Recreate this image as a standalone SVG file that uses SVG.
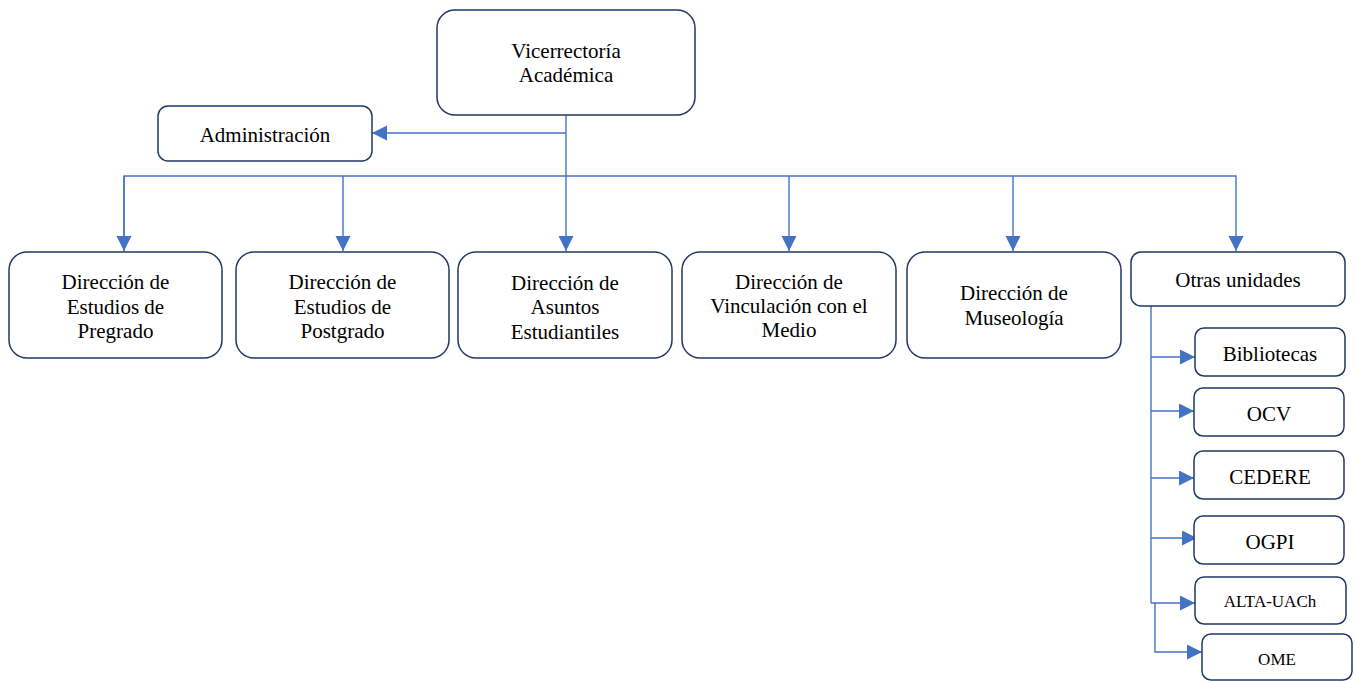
<svg xmlns="http://www.w3.org/2000/svg" width="1356" height="681" viewBox="0 0 1356 681">
  <style>
    .box { fill: #ffffff; stroke: #203864; stroke-width: 1.5; }
    .lbl { font-family: "Liberation Serif", "Times New Roman", serif; font-size: 21px; fill: #000000; text-anchor: middle; }
    .sm { font-size: 17px; }
    .wire { fill: none; stroke: #4472c4; stroke-width: 1.4; }
    .arr { marker-end: url(#head); }
  </style>
  <defs>
    <marker id="head" markerUnits="userSpaceOnUse" markerWidth="16" markerHeight="16" refX="15" refY="7.5" orient="auto">
      <path d="M0,0 L15,7.5 L0,15 z" fill="#4472c4"/>
    </marker>
  </defs>

  <rect width="1356" height="681" fill="#ffffff"/>

  <!-- connectors -->
  <g id="connectors">
    <line class="wire" x1="566" y1="115" x2="566" y2="251" marker-end="url(#head)"/>
    <line class="wire" x1="566" y1="133" x2="372" y2="133" marker-end="url(#head)"/>
    <polyline class="wire" points="124,251 124,176 1236,176 1236,251" marker-end="url(#head)"/>
    <line class="wire" x1="124" y1="176" x2="124" y2="251" marker-end="url(#head)"/>
    <line class="wire" x1="343" y1="176" x2="343" y2="251" marker-end="url(#head)"/>
    <line class="wire" x1="789" y1="176" x2="789" y2="251" marker-end="url(#head)"/>
    <line class="wire" x1="1013" y1="176" x2="1013" y2="251" marker-end="url(#head)"/>
    <!-- sub-units trunk -->
    <line class="wire" x1="1151" y1="306" x2="1151" y2="603"/>
    <line class="wire" x1="1151" y1="357" x2="1195" y2="357" marker-end="url(#head)"/>
    <line class="wire" x1="1151" y1="411" x2="1194" y2="411" marker-end="url(#head)"/>
    <line class="wire" x1="1151" y1="478" x2="1194" y2="478" marker-end="url(#head)"/>
    <line class="wire" x1="1151" y1="538" x2="1197" y2="538" marker-end="url(#head)"/>
    <line class="wire" x1="1151" y1="603" x2="1195" y2="603" marker-end="url(#head)"/>
    <polyline class="wire" points="1155,603 1155,652 1202,652" marker-end="url(#head)"/>
  </g>

  <g id="vicerrectoria">
    <rect class="box" x="437" y="10" width="258" height="105" rx="18"/>
    <text class="lbl" x="566" y="58">Vicerrectoría</text>
    <text class="lbl" x="566" y="82">Académica</text>
  </g>

  <g id="administracion">
    <rect class="box" x="158" y="106" width="214" height="55" rx="10"/>
    <text class="lbl" x="265" y="142">Administración</text>
  </g>

  <g id="pregrado">
    <rect class="box" x="9" y="252" width="213" height="106" rx="18"/>
    <text class="lbl" x="115.5" y="289">Dirección de</text>
    <text class="lbl" x="115.5" y="313.5">Estudios de</text>
    <text class="lbl" x="115.5" y="338">Pregrado</text>
  </g>

  <g id="postgrado">
    <rect class="box" x="236" y="252" width="213" height="106" rx="18"/>
    <text class="lbl" x="342.5" y="289">Dirección de</text>
    <text class="lbl" x="342.5" y="313.5">Estudios de</text>
    <text class="lbl" x="342.5" y="338">Postgrado</text>
  </g>

  <g id="asuntos">
    <rect class="box" x="458" y="252" width="214" height="106" rx="18"/>
    <text class="lbl" x="565" y="290">Dirección de</text>
    <text class="lbl" x="565" y="314">Asuntos</text>
    <text class="lbl" x="565" y="338.5">Estudiantiles</text>
  </g>

  <g id="vinculacion">
    <rect class="box" x="682" y="252" width="214" height="106" rx="18"/>
    <text class="lbl" x="789" y="288.5">Dirección de</text>
    <text class="lbl" x="789" y="312.5">Vinculación con el</text>
    <text class="lbl" x="789" y="337">Medio</text>
  </g>

  <g id="museologia">
    <rect class="box" x="907" y="252" width="214" height="106" rx="18"/>
    <text class="lbl" x="1014" y="300">Dirección de</text>
    <text class="lbl" x="1014" y="325">Museología</text>
  </g>

  <g id="otras">
    <rect class="box" x="1131" y="252" width="214" height="54" rx="10"/>
    <text class="lbl" x="1238" y="287">Otras unidades</text>
  </g>

  <g id="bibliotecas">
    <rect class="box" x="1195" y="328" width="150" height="48" rx="9"/>
    <text class="lbl" x="1270" y="361">Bibliotecas</text>
  </g>

  <g id="ocv">
    <rect class="box" x="1194" y="388" width="150" height="48" rx="9"/>
    <text class="lbl" x="1269" y="421">OCV</text>
  </g>

  <g id="cedere">
    <rect class="box" x="1194" y="451" width="150" height="48" rx="9"/>
    <text class="lbl" x="1270" y="483.5">CEDERE</text>
  </g>

  <g id="ogpi">
    <rect class="box" x="1194" y="516" width="150" height="48" rx="9"/>
    <text class="lbl" x="1270" y="549">OGPI</text>
  </g>

  <g id="alta-uach">
    <rect class="box" x="1195" y="577" width="151" height="47" rx="9"/>
    <text class="lbl sm" x="1270" y="607">ALTA-UACh</text>
  </g>

  <g id="ome">
    <rect class="box" x="1202" y="634" width="150" height="46" rx="9"/>
    <text class="lbl sm" x="1277" y="665">OME</text>
  </g>
</svg>
